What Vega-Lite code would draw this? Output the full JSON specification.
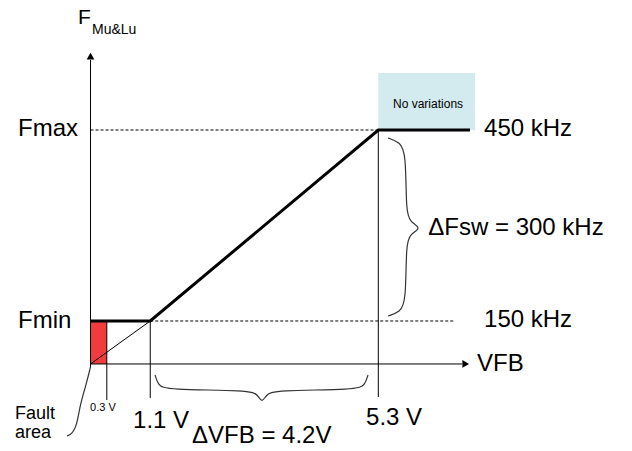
{
  "$schema": "https://vega.github.io/schema/vega-lite/v6.json",
  "width": 632,
  "height": 451,
  "autosize": {"type": "fit", "contains": "padding"},
  "padding": 0,
  "background": "white",
  "config": {"view": {"stroke": null}, "text": {"font": "Liberation Sans", "color": "#000"}},
  "datasets": {
    "rects": [
      {"kind": "fault", "v": 0, "v2": 0.3, "f": 82.5, "f2": 150},
      {"kind": "novar", "v": 5.3, "v2": 7.081, "f": 450, "f2": 539.5}
    ],
    "thin": [
      {"seg": "yaxis", "o": 1, "v": 0, "f": 77.8},
      {"seg": "yaxis", "o": 2, "v": 0, "f": 560},
      {"seg": "xaxis", "o": 1, "v": 0, "f": 82.5},
      {"seg": "xaxis", "o": 2, "v": 6.842, "f": 82.5},
      {"seg": "diag", "o": 1, "v": 0, "f": 82.5},
      {"seg": "diag", "o": 2, "v": 1.1, "f": 150},
      {"seg": "v03", "o": 1, "v": 0.3, "f": 150},
      {"seg": "v03", "o": 2, "v": 0.3, "f": 25.9},
      {"seg": "v11", "o": 1, "v": 1.1, "f": 150},
      {"seg": "v11", "o": 2, "v": 1.1, "f": 29.1},
      {"seg": "v53", "o": 1, "v": 5.3, "f": 450},
      {"seg": "v53", "o": 2, "v": 5.3, "f": 30.6}
    ],
    "thick": [
      {"o": 1, "v": 0, "f": 150},
      {"o": 2, "v": 1.1, "f": 150},
      {"o": 3, "v": 5.3, "f": 450},
      {"o": 4, "v": 6.989, "f": 450}
    ],
    "dashes": [
      {"seg": "fmax", "o": 1, "v": 0, "f": 450},
      {"seg": "fmax", "o": 2, "v": 5.3, "f": 450},
      {"seg": "fmin", "o": 1, "v": 1.1, "f": 150},
      {"seg": "fmin", "o": 2, "v": 6.713, "f": 150}
    ],
    "curves": [
      {"seg": "vb", "o": 1, "v": 5.479, "f": 437.4},
      {"seg": "vb", "o": 2, "v": 5.7, "f": 431.1},
      {"seg": "vb", "o": 3, "v": 5.81, "f": 413.9},
      {"seg": "vb", "o": 4, "v": 5.81, "f": 321.2},
      {"seg": "vb", "o": 5, "v": 5.884, "f": 305.5},
      {"seg": "vb", "o": 6, "v": 6.105, "f": 296.1},
      {"seg": "vb", "o": 7, "v": 5.884, "f": 286.6},
      {"seg": "vb", "o": 8, "v": 5.81, "f": 270.9},
      {"seg": "vb", "o": 9, "v": 5.81, "f": 179.8},
      {"seg": "vb", "o": 10, "v": 5.7, "f": 164.1},
      {"seg": "vb", "o": 11, "v": 5.479, "f": 157.9},
      {"seg": "hb", "o": 1, "v": 1.188, "f": 65.2},
      {"seg": "hb", "o": 2, "v": 1.243, "f": 49.5},
      {"seg": "hb", "o": 3, "v": 1.39, "f": 41.6},
      {"seg": "hb", "o": 4, "v": 2.937, "f": 41.6},
      {"seg": "hb", "o": 5, "v": 3.085, "f": 33.8},
      {"seg": "hb", "o": 6, "v": 3.158, "f": 21.2},
      {"seg": "hb", "o": 7, "v": 3.232, "f": 33.8},
      {"seg": "hb", "o": 8, "v": 3.379, "f": 41.6},
      {"seg": "hb", "o": 9, "v": 4.908, "f": 41.6},
      {"seg": "hb", "o": 10, "v": 5.055, "f": 49.5},
      {"seg": "hb", "o": 11, "v": 5.11, "f": 65.2},
      {"seg": "ptr", "o": 1, "v": 0, "f": 77.8},
      {"seg": "ptr", "o": 2, "v": -0.083, "f": 49.5},
      {"seg": "ptr", "o": 3, "v": -0.193, "f": 18.1},
      {"seg": "ptr", "o": 4, "v": -0.249, "f": -13.3},
      {"seg": "ptr", "o": 5, "v": -0.341, "f": -27.4},
      {"seg": "ptr", "o": 6, "v": -0.433, "f": -30.6}
    ],
    "arrowUp": [{"v": 0, "f": 566}],
    "arrowRight": [{"v": 6.91, "f": 82.5}],
    "texts": [
      {"grp": "big", "label": "Fmax", "v": -1.335, "f": 451.6},
      {"grp": "big", "label": "Fmin", "v": -1.335, "f": 150},
      {"grp": "big", "label": "450 kHz", "v": 7.247, "f": 451.6},
      {"grp": "big", "label": "150 kHz", "v": 7.247, "f": 151.6},
      {"grp": "big", "label": "ΔFsw = 300 kHz", "v": 6.22, "f": 296.1},
      {"grp": "big", "label": "VFB", "v": 7.118, "f": 82.5},
      {"grp": "big", "label": "1.1 V", "v": 0.783, "f": -7.1},
      {"grp": "big", "label": "5.3 V", "v": 5.074, "f": -2.3},
      {"grp": "big", "label": "ΔVFB = 4.2V", "v": 1.869, "f": -30.6},
      {"grp": "title", "label": "F", "v": -0.23, "f": 625.9},
      {"grp": "sub", "label": "Mu&Lu", "v": 0.028, "f": 607},
      {"grp": "fault", "label": "Fault", "v": -1.39, "f": 3.9},
      {"grp": "fault", "label": "area", "v": -1.39, "f": -25.9},
      {"grp": "small", "label": "0.3 V", "v": -0.009, "f": 13.4},
      {"grp": "small2", "label": "No variations", "v": 5.571, "f": 490.8}
    ]
  },
  "encoding": {
    "x": {"field": "v", "type": "quantitative", "scale": {"domain": [-1.667, 9.972], "nice": false, "zero": false}, "axis": null},
    "y": {"field": "f", "type": "quantitative", "scale": {"domain": [-54.2, 654.2], "nice": false, "zero": false}, "axis": null}
  },
  "layer": [
    {
      "data": {"name": "rects"},
      "mark": {"type": "rect", "strokeWidth": 0},
      "encoding": {
        "x2": {"field": "v2"},
        "y2": {"field": "f2"},
        "color": {"field": "kind", "type": "nominal", "scale": {"domain": ["fault", "novar"], "range": ["#f03c3c", "#d3ebef"]}, "legend": null}
      }
    },
    {
      "data": {"name": "thin"},
      "mark": {"type": "line", "color": "#000", "strokeWidth": 1},
      "encoding": {"detail": {"field": "seg"}, "order": {"field": "o", "type": "quantitative"}}
    },
    {
      "data": {"name": "dashes"},
      "mark": {"type": "line", "color": "#000", "strokeWidth": 1, "strokeDash": [3, 2]},
      "encoding": {"detail": {"field": "seg"}, "order": {"field": "o", "type": "quantitative"}}
    },
    {
      "data": {"name": "thick"},
      "mark": {"type": "line", "color": "#000", "strokeWidth": 3},
      "encoding": {"order": {"field": "o", "type": "quantitative"}}
    },
    {
      "data": {"name": "curves"},
      "mark": {"type": "line", "color": "#333", "strokeWidth": 1.2, "interpolate": "basis"},
      "encoding": {"detail": {"field": "seg"}, "order": {"field": "o", "type": "quantitative"}}
    },
    {
      "data": {"name": "arrowUp"},
      "mark": {"type": "point", "shape": "triangle-up", "filled": true, "color": "#000", "size": 60, "opacity": 1},
      "encoding": {}
    },
    {
      "data": {"name": "arrowRight"},
      "mark": {"type": "point", "shape": "triangle-right", "filled": true, "color": "#000", "size": 60, "opacity": 1},
      "encoding": {}
    },
    {
      "data": {"name": "texts"},
      "transform": [{"filter": "datum.grp === 'big'"}],
      "mark": {"type": "text", "align": "left", "baseline": "middle", "fontSize": 24},
      "encoding": {"text": {"field": "label"}}
    },
    {
      "data": {"name": "texts"},
      "transform": [{"filter": "datum.grp === 'title'"}],
      "mark": {"type": "text", "align": "left", "baseline": "middle", "fontSize": 21},
      "encoding": {"text": {"field": "label"}}
    },
    {
      "data": {"name": "texts"},
      "transform": [{"filter": "datum.grp === 'sub'"}],
      "mark": {"type": "text", "align": "left", "baseline": "middle", "fontSize": 14},
      "encoding": {"text": {"field": "label"}}
    },
    {
      "data": {"name": "texts"},
      "transform": [{"filter": "datum.grp === 'fault'"}],
      "mark": {"type": "text", "align": "left", "baseline": "middle", "fontSize": 18},
      "encoding": {"text": {"field": "label"}}
    },
    {
      "data": {"name": "texts"},
      "transform": [{"filter": "datum.grp === 'small'"}],
      "mark": {"type": "text", "align": "left", "baseline": "middle", "fontSize": 11},
      "encoding": {"text": {"field": "label"}}
    },
    {
      "data": {"name": "texts"},
      "transform": [{"filter": "datum.grp === 'small2'"}],
      "mark": {"type": "text", "align": "left", "baseline": "middle", "fontSize": 12},
      "encoding": {"text": {"field": "label"}}
    }
  ]
}
